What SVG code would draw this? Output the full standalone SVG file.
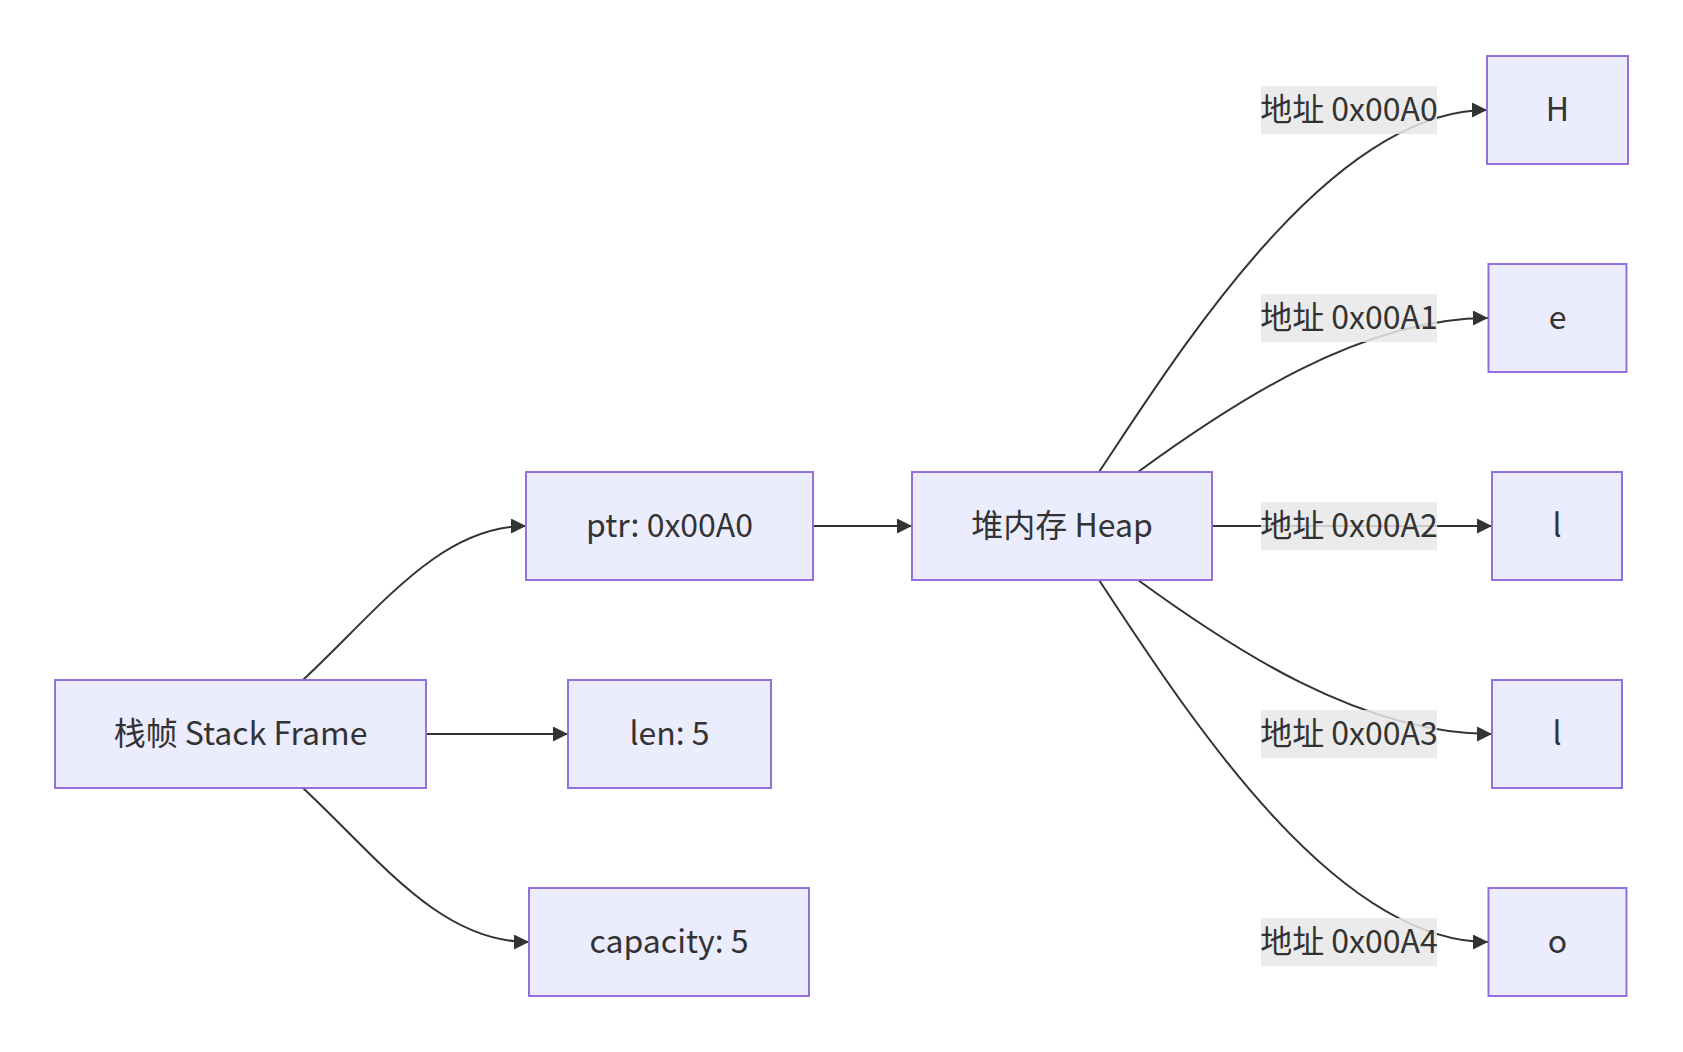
<svg xmlns="http://www.w3.org/2000/svg" width="1683" height="1052" viewBox="0 0 1683 1052">
  <style>
    .node rect { fill: #ECECFF; stroke: #9370DB; stroke-width: 2; }
    .node text, .edge-label text { font-family: "Noto Sans CJK SC", "Noto Sans", sans-serif; font-size: 32px; fill: #333333; text-anchor: middle; dominant-baseline: central; }
    .edge { fill: none; stroke: #333333; stroke-width: 2; marker-end: url(#arrow); }
    .edge-label rect { fill: #e8e8e8; opacity: 0.85; }
  </style>
  <defs>
    <marker id="arrow" viewBox="0 0 10 10" refX="10" refY="5" markerUnits="userSpaceOnUse" markerWidth="15" markerHeight="15" orient="auto">
      <path d="M0,0 L10,5 L0,10 z" fill="#333333"/>
    </marker>
  </defs>
  <rect width="1683" height="1052" fill="#ffffff"/>

  <g id="connectors">
    <path class="edge" d="M303,680 C380,608 440,526 526,526"/>
    <path class="edge" d="M426,734 L568,734"/>
    <path class="edge" d="M303,788 C380,860 440,942 529,942"/>
    <path class="edge" d="M813,526 L912,526"/>
    <path class="edge" d="M1099,472 C1180,350 1330,110 1487,110"/>
    <path class="edge" d="M1138,472 C1230,405 1360,318 1488,318"/>
    <path class="edge" d="M1212,526 L1492,526"/>
    <path class="edge" d="M1138,580 C1230,647 1360,734 1492,734"/>
    <path class="edge" d="M1099,580 C1180,702 1330,942 1488,942"/>
  </g>

  <g id="edge-labels">
    <g class="edge-label"><rect x="1261" y="86" width="176" height="48"/><text x="1349" y="107">地址 0x00A0</text></g>
    <g class="edge-label"><rect x="1261" y="294" width="176" height="48"/><text x="1349" y="315">地址 0x00A1</text></g>
    <g class="edge-label"><rect x="1261" y="502" width="176" height="48"/><text x="1349" y="523">地址 0x00A2</text></g>
    <g class="edge-label"><rect x="1261" y="710" width="176" height="48"/><text x="1349" y="731">地址 0x00A3</text></g>
    <g class="edge-label"><rect x="1261" y="918" width="176" height="48"/><text x="1349" y="939">地址 0x00A4</text></g>
  </g>

  <g id="stack" class="node"><rect x="55" y="680" width="371" height="108"/><text x="240.5" y="731">栈帧 Stack Frame</text></g>
  <g id="ptr" class="node"><rect x="526" y="472" width="287" height="108"/><text x="669.5" y="523">ptr: 0x00A0</text></g>
  <g id="len" class="node"><rect x="568" y="680" width="203" height="108"/><text x="669.5" y="731">len: 5</text></g>
  <g id="capacity" class="node"><rect x="529" y="888" width="280" height="108"/><text x="669" y="939">capacity: 5</text></g>
  <g id="heap" class="node"><rect x="912" y="472" width="300" height="108"/><text x="1062" y="523">堆内存 Heap</text></g>
  <g id="h0" class="node"><rect x="1487" y="56" width="141" height="108"/><text x="1557.5" y="107">H</text></g>
  <g id="h1" class="node"><rect x="1488.5" y="264" width="138" height="108"/><text x="1557.5" y="315">e</text></g>
  <g id="h2" class="node"><rect x="1492" y="472" width="130" height="108"/><text x="1557" y="523">l</text></g>
  <g id="h3" class="node"><rect x="1492" y="680" width="130" height="108"/><text x="1557" y="731">l</text></g>
  <g id="h4" class="node"><rect x="1488.5" y="888" width="138" height="108"/><text x="1557.5" y="939">o</text></g>
</svg>
